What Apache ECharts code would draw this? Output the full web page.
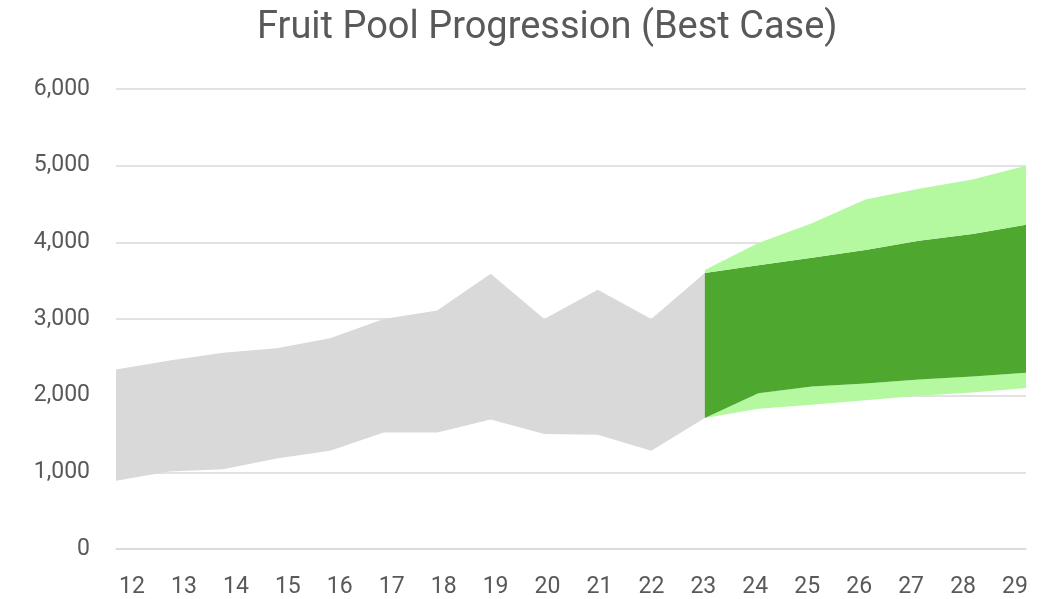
<!DOCTYPE html>
<html><head><meta charset="utf-8">
<script src="https://cdn.jsdelivr.net/npm/echarts@6/dist/echarts.min.js"></script>
<style>html,body{margin:0;padding:0;background:#fff}#c{width:1043px;height:599px}</style>
</head><body><div id="c"></div>
<script>
const categories = ['12','13','14','15','16','17','18','19','20','21','22','23','24','25','26','27','28','29'];
const grayLow   = [890,1010,1040,1180,1280,1520,1520,1690,1500,1490,1280,1710,null,null,null,null,null,null];
const grayHigh  = [2340,2460,2560,2620,2750,3000,3110,3590,3000,3380,3000,3600,null,null,null,null,null,null];
const lightLow  = [null,null,null,null,null,null,null,null,null,null,null,1710,1830,1880,1940,2000,2040,2100];
const darkLow   = [null,null,null,null,null,null,null,null,null,null,null,1710,2030,2120,2160,2210,2250,2300];
const darkHigh  = [null,null,null,null,null,null,null,null,null,null,null,3600,3700,3800,3900,4020,4110,4230];
const lightHigh = [null,null,null,null,null,null,null,null,null,null,null,3640,3990,4250,4560,4700,4820,5000];

const diff = (a, b) => a.map((v, i) => (v == null || b[i] == null) ? '-' : v - b[i]);
const base = a => a.map(v => v == null ? '-' : v);

const GRAY = '#d9d9d9', LIGHT = '#b4f8a0', DARK = '#4ea72e';
const hidden = { opacity: 0, width: 0 };
function area(name, data, stack, color) {
  return {
    name, type: 'line', stack, data, xAxisIndex: 0, yAxisIndex: 0,
    showSymbol: false, symbol: 'none', smooth: false,
    lineStyle: hidden,
    areaStyle: color ? { color, opacity: 1 } : { opacity: 0 },
    emphasis: { disabled: true }, silent: true
  };
}

const chart = echarts.init(document.getElementById('c'), null, { renderer: 'canvas' });
chart.setOption({
  animation: false,
  backgroundColor: '#ffffff',
  title: {
    text: 'Fruit Pool Progression (Best Case)',
    left: 252, top: 4,
    textStyle: { fontFamily: 'Roboto', fontWeight: 'normal', fontSize: 38, color: '#595959' }
  },
  grid: [
    { left: 116, right: 17, top: 89, bottom: 50 },
    { left: 132, right: 28, top: 89, bottom: 50 }
  ],
  xAxis: [
    { type: 'category', gridIndex: 0, data: categories, boundaryGap: false,
      axisLine: { lineStyle: { color: '#d9d9d9', width: 1.5 } }, axisTick: { show: false },
      axisLabel: { show: false }, splitLine: { show: false } },
    { type: 'category', gridIndex: 1, data: categories, boundaryGap: false,
      axisLine: { show: false }, axisTick: { show: false }, splitLine: { show: false },
      axisLabel: { fontFamily: 'Roboto', fontSize: 23, color: '#595959', margin: 27 } }
  ],
  yAxis: [
    { type: 'value', gridIndex: 0, min: 0, max: 6000, interval: 1000,
      axisLine: { show: false }, axisTick: { show: false },
      splitLine: { lineStyle: { color: '#d9d9d9', width: 1.5 } },
      axisLabel: { fontFamily: 'Roboto', fontSize: 23, color: '#595959', margin: 26,
        formatter: v => v.toLocaleString('en-US') } },
    { type: 'value', gridIndex: 1, min: 0, max: 6000, interval: 1000, show: false }
  ],
  series: [
    area('grayBase', base(grayLow), 'gray', null),
    area('grayBand', diff(grayHigh, grayLow), 'gray', GRAY),
    area('lightBase', base(lightLow), 'green', null),
    area('lightLower', diff(darkLow, lightLow), 'green', LIGHT),
    area('dark', diff(darkHigh, darkLow), 'green', DARK),
    area('lightUpper', diff(lightHigh, darkHigh), 'green', LIGHT)
  ]
});
</script>
</body></html>
